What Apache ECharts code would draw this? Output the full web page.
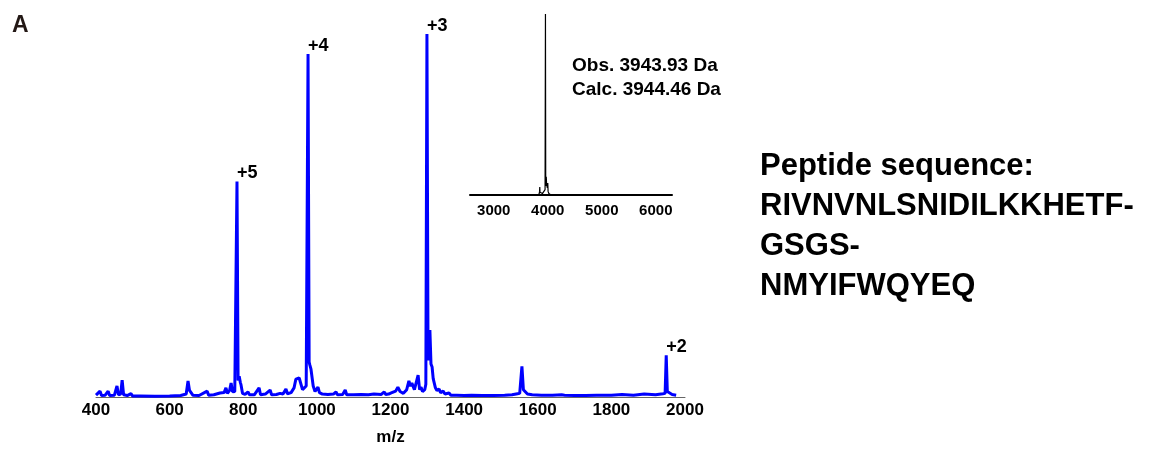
<!DOCTYPE html>
<html>
<head>
<meta charset="utf-8">
<script src="https://cdn.jsdelivr.net/npm/echarts@6/dist/echarts.min.js"></script>
<style>
  html, body { margin: 0; padding: 0; background: #fff; }
  #main { width: 1151px; height: 450px; }
</style>
</head>
<body>
<div id="main"></div>
<script>
// main spectrum (m/z, relative intensity %)
var mzMain = [400, 405, 411, 415, 425, 433, 437, 450, 457, 461, 467, 471, 475, 485, 495, 499, 520, 560, 600, 630,
  645, 650, 654, 658, 663, 680, 702, 706, 720, 737, 741, 748, 753, 757, 763, 767, 771, 777, 780, 783,
  786, 789, 792, 794, 798, 805, 813, 817, 830, 843, 847, 860, 873, 877, 890, 900, 908, 916, 920, 930,
  938, 943, 947, 952, 957, 961, 966, 971, 976, 979, 981, 984, 987, 990, 995, 1003, 1007, 1011, 1015, 1030,
  1045, 1052, 1056, 1070, 1077, 1081, 1100, 1120, 1140, 1155, 1160, 1175, 1183, 1187, 1195, 1202, 1207, 1214, 1220, 1226,
  1235, 1244, 1250, 1254, 1258, 1261, 1265, 1270, 1275, 1279, 1283, 1287, 1293, 1296, 1299, 1302, 1307, 1310, 1313, 1316,
  1318, 1322, 1326, 1332, 1336, 1343, 1348, 1359, 1364, 1380, 1400, 1420, 1450, 1480, 1510, 1530, 1545, 1551, 1557, 1561,
  1566, 1572, 1585, 1610, 1640, 1665, 1669, 1673, 1700, 1730, 1760, 1800, 1829, 1834, 1860, 1889, 1894, 1920, 1940, 1946,
  1949, 1952, 1957, 1965, 1976];
var intMain = [0.5, 0.4, 1.6, 0.4, 0.5, 1.6, 0.4, 0.5, 3.0, 0.6, 0.8, 4.6, 0.6, 0.4, 0.9, 0.3, 0.3, 0.2, 0.3, 0.4,
  0.8, 4.4, 1.8, 1.9, 0.5, 0.4, 1.6, 0.5, 0.6, 1.1, 0.6, 1.2, 2.5, 1.0, 1.8, 3.8, 1.4, 1.5, 2.0, 58.9,
  4.5, 5.7, 4.0, 3.3, 1.0, 0.7, 1.4, 0.6, 0.6, 2.5, 0.6, 0.8, 1.9, 0.6, 0.7, 1.0, 0.8, 2.2, 0.9, 1.2,
  2.5, 4.9, 4.4, 5.2, 4.9, 2.0, 1.5, 3.0, 93.7, 9.5, 8.7, 7.6, 7.4, 3.0, 1.5, 2.7, 1.2, 1.6, 0.8, 0.7,
  0.8, 1.4, 0.6, 0.7, 1.9, 0.6, 0.6, 0.7, 0.6, 0.8, 0.5, 0.7, 1.4, 0.7, 0.8, 1.1, 0.9, 1.6, 2.7, 1.5,
  1.0, 2.0, 4.4, 3.0, 3.8, 4.1, 2.0, 2.5, 6.0, 2.0, 2.7, 1.5, 2.0, 3.5, 99.2, 10.0, 18.3, 9.0, 8.2, 5.0,
  4.6, 2.5, 1.8, 2.2, 1.2, 1.6, 0.8, 1.1, 0.5, 0.5, 0.4, 0.5, 0.4, 0.4, 0.5, 0.6, 0.9, 1.0, 8.4, 2.0,
  1.6, 0.8, 0.6, 0.5, 0.5, 0.6, 1.0, 0.5, 0.4, 0.4, 0.5, 0.5, 0.7, 0.4, 0.5, 0.8, 0.5, 0.6, 0.9, 1.0,
  11.4, 1.5, 1.1, 0.7, 0.5];

// charge-state labels
var peakLabels = ['+5', '+4', '+3', '+2'];
var peakMz = [783, 976, 1299, 1949];
var peakInt = [58.9, 93.7, 99.2, 11.4];

// deconvoluted inset
var mzInset = [2560, 3800, 3840, 3848, 3852, 3856, 3870, 3900, 3930, 3950, 3957, 3962, 3967, 3972, 3978, 3985, 3992, 4000, 4006, 4020, 4060, 6300];
var intInset = [0, 0, 0.5, 2, 4.4, 1.5, 0.6, 0.8, 1.2, 3, 100, 5, 8, 10, 6, 6, 4, 6.6, 2, 0.8, 0, 0];
var insetTicks = [3000, 4000, 5000, 6000];

var sequenceLines = ['Peptide sequence:', 'RIVNVNLSNIDILKKHETF-', 'GSGS-', 'NMYIFWQYEQ'];

var FONT = 'Arial, "Liberation Sans", sans-serif';

function pairs(xs, ys) {
    var out = [];
    for (var i = 0; i < xs.length; i++) out.push([xs[i], ys[i]]);
    return out;
}
function plain(v) { return String(v); }

var myChart = echarts.init(document.getElementById('main'));

var option = {
    backgroundColor: '#fff',
    animation: false,
    grid: [
        { left: 96, top: 31, width: 589, height: 366, outerBoundsMode: 'none' },
        { left: 470, top: 14, width: 202, height: 181, outerBoundsMode: 'none' }
    ],
    xAxis: [{
        type: 'value',
        gridIndex: 0,
        min: 400,
        max: 2000,
        interval: 200,
        name: 'm/z',
        nameLocation: 'middle',
        nameGap: 32,
        nameTextStyle: { color: '#000', fontWeight: 'bold', fontSize: 17, fontFamily: FONT },
        axisLine: { lineStyle: { color: '#666', width: 1 } },
        axisTick: { show: false },
        splitLine: { show: false },
        axisLabel: { color: '#000', fontWeight: 'bold', fontSize: 17, fontFamily: FONT, margin: 5, formatter: plain }
    }, {
        type: 'value',
        gridIndex: 1,
        min: 2560,
        max: 6300,
        axisLine: { lineStyle: { color: '#000', width: 2 } },
        axisTick: { show: false },
        splitLine: { show: false },
        axisLabel: { color: '#000', fontWeight: 'bold', fontSize: 15, fontFamily: FONT, margin: 8, customValues: insetTicks, formatter: plain }
    }],
    yAxis: [{
        type: 'value', gridIndex: 0, min: 0, max: 100, show: false
    }, {
        type: 'value', gridIndex: 1, min: 0, max: 100, show: false
    }],
    series: [{
        type: 'line',
        xAxisIndex: 0,
        yAxisIndex: 0,
        symbol: 'none',
        smooth: false,
        lineStyle: { color: '#0000ff', width: 3 },
        data: pairs(mzMain, intMain),
        markPoint: {
            symbol: 'circle',
            symbolSize: 0,
            label: {
                show: true,
                position: [0, -8],
                align: 'left',
                verticalAlign: 'middle',
                color: '#000',
                fontWeight: 'bold',
                fontSize: 18,
                fontFamily: FONT,
                formatter: function (p) { return p.name; }
            },
            data: peakLabels.map(function (t, i) {
                return { name: t, coord: [peakMz[i], peakInt[i]] };
            })
        }
    }, {
        type: 'line',
        xAxisIndex: 1,
        yAxisIndex: 1,
        symbol: 'none',
        lineStyle: { color: '#000', width: 1.2 },
        data: pairs(mzInset, intInset)
    }],
    graphic: [
        { type: 'text', left: 12, top: 14, style: { text: 'A', fill: '#231815', font: 'bold 23px ' + FONT } },
        { type: 'text', left: 572, top: 56, style: { text: 'Obs. 3943.93 Da', fill: '#000', font: 'bold 19px ' + FONT } },
        { type: 'text', left: 572, top: 80, style: { text: 'Calc. 3944.46 Da', fill: '#000', font: 'bold 19px ' + FONT } },
        {
            type: 'text', left: 760, top: 146,
            style: { text: sequenceLines.join('\n'), fill: '#000', font: 'bold 31px ' + FONT, lineHeight: 40 }
        }
    ]
};

myChart.setOption(option);
</script>
</body>
</html>
